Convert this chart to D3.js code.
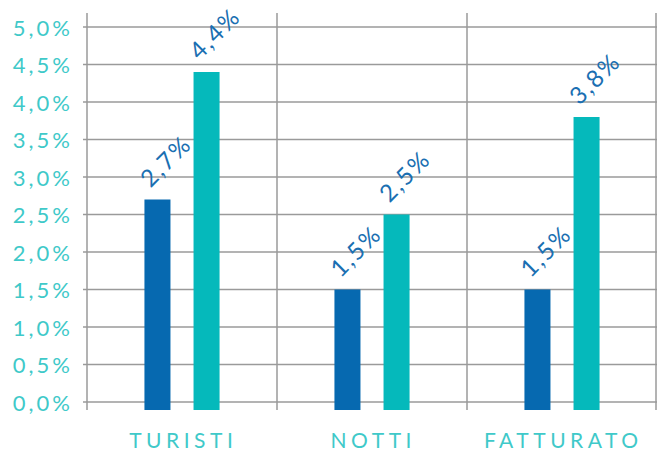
<!DOCTYPE html>
<html>
<head>
<meta charset="utf-8">
<script src="https://cdn.jsdelivr.net/npm/d3@7/dist/d3.min.js"></script>
<style>
  html, body { margin: 0; padding: 0; background: #fff; }
  svg { display: block; }
</style>
</head>
<body>
<svg id="chart" width="657" height="454"></svg>
<script>
// Growth rates per category (percent)
const categories = ["TURISTI", "NOTTI", "FATTURATO"];
const seriesA = [2.7, 1.5, 1.5];   // dark blue bars
const seriesB = [4.4, 2.5, 3.8];   // teal bars
const yTicks = [0, 0.5, 1, 1.5, 2, 2.5, 3, 3.5, 4, 4.5, 5];

const svg = d3.select("#chart");
const plotL = 87, plotR = 657, plotT = 27, plotB = 402;

const x = d3.scaleBand().domain(categories).range([plotL, plotR]).paddingInner(0).paddingOuter(0);
const sub = d3.scaleBand().domain(["a", "b"]).range([0, x.bandwidth()]).paddingInner(0.47).paddingOuter(1.17);
const y = d3.scaleLinear().domain([0, 5]).range([plotB, plotT]);

const fmt = v => d3.format(".1f")(v).replace(".", ",") + "%";
const gridColor = "#9a9a9a";

// horizontal gridlines
svg.append("g").selectAll("line").data(yTicks).join("line")
  .attr("x1", plotL - 4).attr("x2", plotR)
  .attr("y1", d => y(d)).attr("y2", d => y(d))
  .attr("stroke", gridColor).attr("stroke-width", 1.5);

// vertical category separators
const seps = categories.map(c => x(c)).concat([plotR - 1]);
svg.append("g").selectAll("line").data(seps).join("line")
  .attr("x1", d => d).attr("x2", d => d)
  .attr("y1", 13).attr("y2", plotB + 8)
  .attr("stroke", gridColor).attr("stroke-width", 1.5);

// y-axis labels
const ySpacing = 3;
svg.append("g").selectAll("text").data(yTicks).join("text")
  .attr("x", 70 + ySpacing).attr("y", d => y(d) + 1)
  .attr("dy", "0.36em")
  .attr("text-anchor", "end")
  .attr("fill", "#3fc9c9")
  .attr("font-family", "Lato, 'Noto Sans', sans-serif")
  .attr("font-size", 22)
  .attr("letter-spacing", ySpacing)
  .text(d => fmt(d));

// bars
const rows = categories.map((c, i) => [
  { cat: c, key: "a", v: seriesA[i], color: "#0669b0" },
  { cat: c, key: "b", v: seriesB[i], color: "#05b9bb" }
]).flat();

svg.append("g").selectAll("rect").data(rows).join("rect")
  .attr("x", d => x(d.cat) + sub(d.key))
  .attr("width", sub.bandwidth())
  .attr("y", d => y(d.v))
  .attr("height", d => plotB + 8 - y(d.v))
  .attr("fill", d => d.color);

// rotated value labels
svg.append("g").selectAll("text").data(rows).join("text")
  .attr("transform", d => `translate(${x(d.cat) + sub(d.key) + 6},${y(d.v) - 11}) rotate(-45)`)
  .attr("fill", "#1a6fb2")
  .attr("font-family", "Lato, 'Noto Sans', sans-serif")
  .attr("font-size", 24)
  .attr("letter-spacing", 2)
  .text(d => fmt(d.v));

// category labels
const catSpacing = 4.5;
svg.append("g").selectAll("text").data(categories).join("text")
  .attr("x", d => x(d) + x.bandwidth() / 2 + catSpacing / 2 - 1)
  .attr("y", 448)
  .attr("text-anchor", "middle")
  .attr("fill", "#3fc9c9")
  .attr("font-family", "Lato, 'Noto Sans', sans-serif")
  .attr("font-size", 21)
  .attr("letter-spacing", catSpacing)
  .text(d => d);
</script>
</body>
</html>
